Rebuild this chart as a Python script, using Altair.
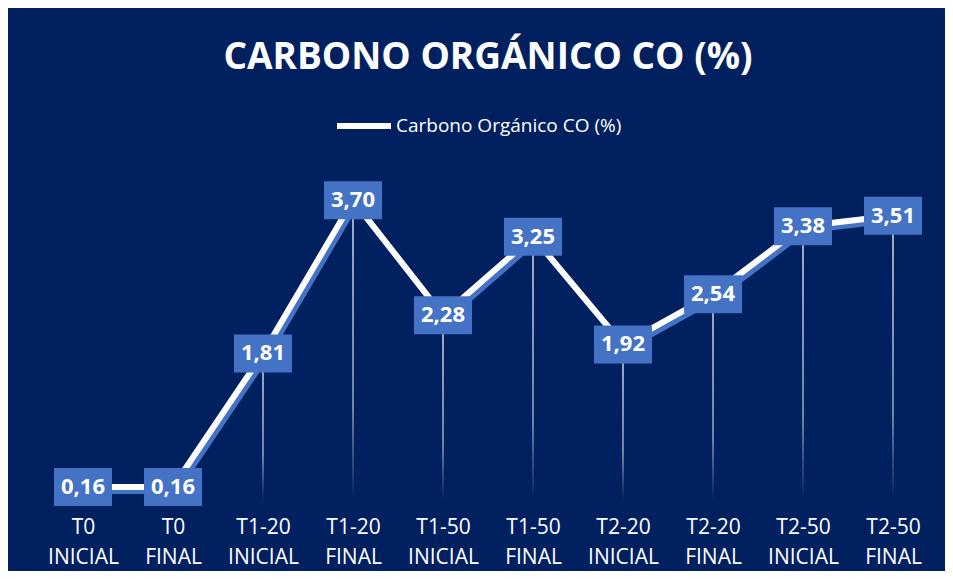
import altair as alt
import pandas as pd

categorias = ["T0 INICIAL", "T0 FINAL", "T1-20 INICIAL", "T1-20 FINAL", "T1-50 INICIAL",
              "T1-50 FINAL", "T2-20 INICIAL", "T2-20 FINAL", "T2-50 INICIAL", "T2-50 FINAL"]
valores = [0.16, 0.16, 1.81, 3.70, 2.28, 3.25, 1.92, 2.54, 3.38, 3.51]
serie = "Carbono Orgánico CO (%)"

df = pd.DataFrame({
    "cat": categorias,
    "valor": valores,
    "etiqueta": [f"{v:.2f}".replace(".", ",") for v in valores],
    "serie": [serie] * len(valores),
})

NAVY = "#002060"
BLUE = "#4472C4"
FONT = "Open Sans"

x_enc = alt.X("cat:N", sort=categorias,
              scale=alt.Scale(type="point", padding=0.5),
              axis=alt.Axis(title=None, domain=False, ticks=False, grid=False,
                            labelAngle=0, labelColor="white", labelFont=FONT,
                            labelFontSize=21, labelLineHeight=30, labelPadding=16,
                            labelExpr="split(datum.label, ' ')"))
y_scale = alt.Scale(domain=[0, 4], nice=False, zero=True)
y_enc = alt.Y("valor:Q", scale=y_scale, axis=None)

base = alt.Chart(df)

drops = base.mark_bar(
    width=1.6,
    color=alt.Gradient(
        gradient="linear", x1=0, x2=0, y1=0, y2=1,
        stops=[alt.GradientStop(color="rgba(255,255,255,0.8)", offset=0),
               alt.GradientStop(color="rgba(255,255,255,0.55)", offset=0.7),
               alt.GradientStop(color="rgba(255,255,255,0)", offset=1)])
).encode(x=x_enc, y=y_enc, y2=alt.datum(0))

shadow = base.mark_line(color=BLUE, strokeWidth=6, xOffset=3, yOffset=4).encode(
    x=x_enc, y=y_enc)

line = base.mark_line(strokeWidth=6, strokeCap="round").encode(
    x=x_enc, y=y_enc,
    color=alt.Color("serie:N", scale=alt.Scale(range=["white"]),
                    legend=alt.Legend(title=None, orient="none", legendX=296, legendY=-80,
                                      symbolType="stroke", symbolSize=2916,
                                      symbolStrokeWidth=6, labelColor="white",
                                      labelFont=FONT, labelFontSize=19, labelOffset=2,
                                      labelLimit=400)))

boxes = base.mark_point(
    shape="M-1,-0.655L1,-0.655L1,0.655L-1,0.655Z", size=3364, filled=True,
    color=BLUE, opacity=1
).encode(x=x_enc, y=y_enc)

labels = base.mark_text(color="white", font=FONT, fontWeight="bold", fontSize=22).encode(
    x=x_enc, y=y_enc, text="etiqueta:N")

chart = alt.layer(drops, shadow, line, boxes, labels).properties(
    width=900, height=324,
    title=alt.TitleParams("CARBONO ORGÁNICO CO (%)", color="white", font=FONT,
                          fontSize=37, fontWeight="bold", anchor="middle", offset=19),
    background=NAVY,
    padding={"left": 30, "top": 168, "right": 7, "bottom": 71},
    autosize=alt.AutoSizeParams(type="none"),
).configure_view(stroke=None)

chart.save("out.html", embed_options={"renderer": "svg", "actions": False})
